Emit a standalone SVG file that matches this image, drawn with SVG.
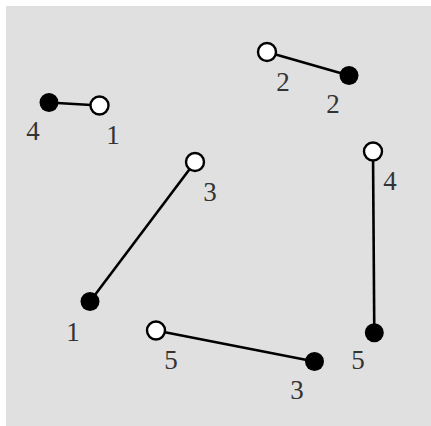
<svg xmlns="http://www.w3.org/2000/svg" width="431" height="426" viewBox="0 0 431 426">
<style>
.e{stroke:#000;stroke-width:2.6;fill:none}
.f{fill:#000}
.o{fill:#fff;stroke:#000;stroke-width:2.4}
text{font-family:"Liberation Serif","DejaVu Serif",serif;font-size:27px;fill:#333;text-anchor:middle}
</style>
<rect x="6" y="6" width="425" height="420" fill="#e0e0e0"/>
<g id="connectors">
<line class="e" x1="49" y1="102.5" x2="99.5" y2="105.5"/>
<line class="e" x1="267" y1="52" x2="349" y2="75.5"/>
<line class="e" x1="195" y1="162" x2="90" y2="301.5"/>
<line class="e" x1="373" y1="151.5" x2="374.3" y2="332.7"/>
<line class="e" x1="156" y1="330.5" x2="314.5" y2="361.5"/>
</g>
<g id="n-b4"><circle class="f" cx="49" cy="102.5" r="9.5"/><text x="33" y="140">4</text></g>
<g id="n-o1"><circle class="o" cx="99.5" cy="105.5" r="9"/><text x="113" y="144">1</text></g>
<g id="n-o2"><circle class="o" cx="267" cy="52" r="9"/><text x="283" y="91">2</text></g>
<g id="n-b2"><circle class="f" cx="349" cy="75.5" r="9.5"/><text x="333" y="113">2</text></g>
<g id="n-o3"><circle class="o" cx="195" cy="162" r="9"/><text x="210" y="201">3</text></g>
<g id="n-b1"><circle class="f" cx="90" cy="301.5" r="9.5"/><text x="73" y="341">1</text></g>
<g id="n-o4"><circle class="o" cx="373" cy="151.5" r="9"/><text x="390" y="190">4</text></g>
<g id="n-b5"><circle class="f" cx="374.3" cy="332.7" r="9.5"/><text x="358" y="369">5</text></g>
<g id="n-o5"><circle class="o" cx="156" cy="330.5" r="9"/><text x="171" y="369">5</text></g>
<g id="n-b3"><circle class="f" cx="314.5" cy="361.5" r="9.5"/><text x="297" y="399">3</text></g>
</svg>
